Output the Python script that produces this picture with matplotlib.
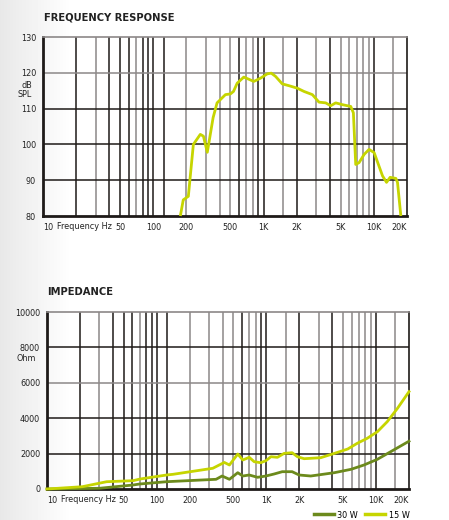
import numpy as np
import matplotlib
matplotlib.use('Agg')
import matplotlib.pyplot as plt
from matplotlib.lines import Line2D

plt.rcParams['font.family'] = ['DejaVu Sans']
plt.rcParams['font.stretch'] = 'condensed'

# frequency response (Hz, dB SPL)
fr_freq = [176, 187, 208, 231, 267, 285, 309, 349, 379, 451, 501, 534, 577, 662, 735,
           816, 939, 1081, 1175, 1285, 1479, 1700, 2024, 2325, 2773, 3183, 3661, 4064,
           4512, 5190, 6180, 6530, 6855, 7350, 8170, 9060, 10070, 12000, 13040, 14060,
           15850, 16400, 17590]
fr_db = [80, 84.5, 85.5, 100, 102.8, 102.3, 97.8, 107.5, 111.6, 113.9, 114.1, 114.8,
         117.1, 118.8, 118.2, 117.6, 118.5, 119.7, 119.9, 119.0, 116.9, 116.4, 115.7,
         114.8, 113.9, 111.8, 111.6, 110.8, 111.6, 111.1, 110.6, 108.8, 94.4, 94.9,
         97.2, 98.6, 97.7, 91.2, 89.4, 90.8, 90.5, 89.4, 80.0]

# impedance (Hz, Ohm)
imp_freq_15 = [10, 21, 35, 61, 70, 123, 141, 325, 372, 414, 461, 549, 610, 698, 775, 889,
               992, 1102, 1262, 1453, 1719, 1919, 2211, 3130, 4170, 5530, 6740, 8320,
               10300, 12660, 15700, 20000]
imp_15 = [0, 130, 412, 470, 560, 791, 830, 1170, 1356, 1500, 1356, 1977, 1638, 1790,
          1542, 1486, 1599, 1825, 1790, 2011, 2051, 1825, 1712, 1768, 2011, 2260, 2580,
          2864, 3237, 3802, 4557, 5500]
imp_freq_30 = [10, 30, 61, 70, 123, 141, 348, 395, 461, 549, 610, 698, 832, 992, 1177,
               1398, 1719, 1990, 2540, 4170, 5930, 7770, 10300, 13610, 20000]
imp_30 = [0, 40, 226, 282, 412, 430, 548, 734, 548, 921, 734, 791, 661, 734, 847, 978,
          978, 791, 734, 921, 1113, 1356, 1678, 2107, 2700]

x_ticks = [10, 50, 100, 200, 500, 1000, 2000, 5000, 10000, 20000]
x_labels = ['10', '50', '100', '200', '500', '1K', '2K', '5K', '10K', '20K']

LIME = '#c6d500'
OLIVE = '#6c8a1c'
DARK = '#1e1a18'
GREY = '#8c8888'
TXT = '#222222'

# vertical grid: (freq, dark?)
vgrid = [(20, 1), (30, 0), (40, 1), (50, 1), (60, 1), (70, 0), (80, 1), (90, 1),
         (100, 1), (125, 1), (200, 0), (300, 0), (400, 0), (500, 0), (600, 1),
         (700, 0), (800, 0), (900, 1), (1000, 1), (1500, 0), (2000, 1), (3000, 0),
         (4000, 1), (5000, 0), (6000, 0), (7000, 0), (8000, 0), (9000, 0),
         (10000, 1), (15000, 0)]

fig = plt.figure(figsize=(4.49, 5.2), dpi=100)

# light grey fade on the left edge of the page
bg = fig.add_axes([0, 0, 1, 1], zorder=-10)
grad = np.clip(np.linspace(0, 1, 449) / 0.16, 0, 1)
grad = 0.91 + 0.09 * grad
bg.imshow(np.tile(grad, (10, 1)), cmap='gray', vmin=0, vmax=1, aspect='auto',
          extent=[0, 1, 0, 1])
bg.axis('off')


def setup(ax, ymin, ymax, hlines):
    ax.set_facecolor('none')
    ax.set_xscale('log')
    ax.set_xlim(10, 20000)
    ax.set_ylim(ymin, ymax)
    for f, d in vgrid:
        ax.axvline(f, color=DARK if d else GREY, lw=1.1, zorder=1)
    for y, d in hlines:
        ax.axhline(y, color=DARK if d else GREY, lw=1.1, zorder=1)
    for s in ['left', 'bottom']:
        ax.spines[s].set_linewidth(2)
        ax.spines[s].set_color(DARK)
    ax.spines['top'].set_color(GREY)
    ax.spines['top'].set_linewidth(1.2)
    ax.spines['right'].set_color(DARK)
    ax.spines['right'].set_linewidth(1.2)
    ax.minorticks_off()
    ax.set_xticks(x_ticks)
    ax.set_xticklabels(x_labels)
    ax.tick_params(length=0, labelsize=6.5, pad=5, colors=TXT)
    ax.get_xticklabels()[0].set_ha('left')
    ax.get_xticklabels()[-1].set_ha('right')
    ax.text(13.5, -0.035, 'Frequency Hz', transform=ax.get_xaxis_transform(),
            ha='left', va='top', fontsize=6.5, color=TXT)


# frequency response
ax1 = fig.add_axes([43 / 449, 1 - 216 / 520, 364 / 449, 179 / 520])
setup(ax1, 80, 130, [(90, 1), (100, 1), (110, 1), (120, 0)])
ax1.set_yticks([80, 90, 100, 110, 120, 130])
ax1.text(-0.03, 115.2, 'dB\nSPL', transform=ax1.get_yaxis_transform(), ha='right',
         va='center', fontsize=6.5, color=TXT, linespacing=1.1)
ax1.plot(fr_freq, fr_db, color=LIME, lw=2.0, zorder=3, clip_on=False,
         solid_capstyle='butt')
fig.text(44 / 449, 1 - 17 / 520, 'FREQUENCY RESPONSE', fontsize=8,
         fontweight='bold', va='center', color=TXT)

# impedance
ax2 = fig.add_axes([47 / 449, 1 - 489 / 520, 362 / 449, 177 / 520])
setup(ax2, 0, 10000, [(2000, 1), (4000, 1), (6000, 0), (8000, 1)])
ax2.set_yticks([0, 2000, 4000, 6000, 8000, 10000])
ax2.text(-0.03, 7350, 'Ohm', transform=ax2.get_yaxis_transform(), ha='right',
         va='center', fontsize=6.5, color=TXT)
ax2.plot(imp_freq_30, imp_30, color=OLIVE, lw=2.0, zorder=3, clip_on=False)
ax2.plot(imp_freq_15, imp_15, color=LIME, lw=2.0, zorder=4, clip_on=False)
fig.text(47 / 449, 1 - 292 / 520, 'IMPEDANCE', fontsize=8, fontweight='bold',
         va='center', color=TXT)

handles = [Line2D([], [], color=OLIVE, lw=2.5), Line2D([], [], color=LIME, lw=2.5)]
fig.legend(handles, ['30 W', '15 W'], loc='center right', ncol=2, frameon=False,
           bbox_to_anchor=(414 / 449, 1 - 515 / 520), fontsize=6.5, handlelength=2.2,
           handletextpad=0.4, columnspacing=0.8, borderpad=0)

fig.savefig('out.png', dpi=100)
